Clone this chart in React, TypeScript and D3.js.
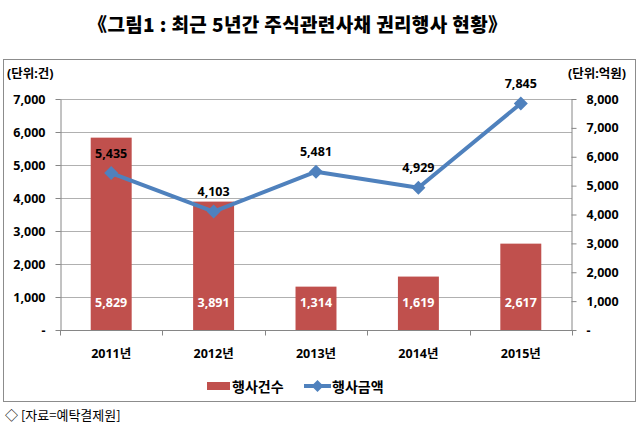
import React, { useEffect, useRef } from 'react';
import * as d3 from 'd3';

const years = ['2011년', '2012년', '2013년', '2014년', '2015년'];
const counts = [5829, 3891, 1314, 1619, 2617];
const amounts = [5435, 4103, 5481, 4929, 7845];
const leftTicks = [0, 1000, 2000, 3000, 4000, 5000, 6000, 7000];
const rightTicks = [0, 1000, 2000, 3000, 4000, 5000, 6000, 7000, 8000];

const W = 639;
const H = 430;
const FONT = '"Noto Sans", "Noto Sans CJK KR", sans-serif';
const BAR = '#C0504D';
const LINE = '#4F81BD';

const App: React.FC = () => {
  const ref = useRef<SVGSVGElement>(null);

  useEffect(() => {
    const svg = d3.select(ref.current);
    svg.selectAll('*').remove();

    const plot = { left: 60, right: 572, top: 99, bottom: 330 };

    const x = d3
      .scaleBand<string>()
      .domain(years)
      .range([plot.left, plot.right])
      .paddingInner(0.6)
      .paddingOuter(0.3);
    const step = x.step();
    const cx = (d: string) => (x(d) as number) + x.bandwidth() / 2;

    const yL = d3.scaleLinear().domain([0, 7000]).range([plot.bottom, plot.top]);
    const yR = d3.scaleLinear().domain([0, 8000]).range([plot.bottom, plot.top]);

    const fmt = (d: number) => (d === 0 ? '-' : d3.format(',')(d));

    // title
    svg
      .append('text')
      .attr('x', 88)
      .attr('y', 23)
      .attr('textLength', 419)
      .attr('lengthAdjust', 'spacing')
      .attr('dominant-baseline', 'central')
      .style('font-family', '"Noto Sans CJK KR", sans-serif')
      .style('font-weight', 900)
      .style('font-size', '19px')
      .text('《그림1 : 최근 5년간 주식관련사채 권리행사 현황》');

    // chart frame
    svg
      .append('rect')
      .attr('x', 3.5)
      .attr('y', 59.5)
      .attr('width', 632)
      .attr('height', 342)
      .attr('fill', 'white')
      .attr('stroke', '#8c8c8c');

    // gridlines
    svg
      .append('g')
      .selectAll('line')
      .data(leftTicks.filter((d) => d > 0))
      .enter()
      .append('line')
      .attr('x1', plot.left)
      .attr('x2', plot.right)
      .attr('y1', (d) => Math.round(yL(d)) + 0.5)
      .attr('y2', (d) => Math.round(yL(d)) + 0.5)
      .attr('stroke', '#b0b0b0');

    // bars
    svg
      .append('g')
      .selectAll('rect')
      .data(years)
      .enter()
      .append('rect')
      .attr('x', (d) => x(d) as number)
      .attr('y', (d, i) => yL(counts[i]))
      .attr('width', x.bandwidth())
      .attr('height', (d, i) => plot.bottom - yL(counts[i]))
      .attr('fill', BAR);

    // axes
    const styleAxis = (g: d3.Selection<SVGGElement, unknown, null, undefined>) => {
      g.select('.domain').attr('stroke', '#868686');
      g.selectAll('.tick line').attr('stroke', '#868686');
      g.selectAll('.tick text')
        .attr('fill', '#000')
        .style('font-family', FONT)
        .style('font-weight', 700)
        .style('font-size', '12.5px');
    };

    svg
      .append('g')
      .attr('transform', `translate(${plot.left + 0.5},0)`)
      .call(d3.axisLeft(yL).tickValues(leftTicks).tickFormat((d) => fmt(+d)).tickSize(5).tickSizeOuter(0).tickPadding(10))
      .call(styleAxis);

    svg
      .append('g')
      .attr('transform', `translate(${plot.right - 0.5},0)`)
      .call(d3.axisRight(yR).tickValues(rightTicks).tickFormat((d) => fmt(+d)).tickSize(5).tickSizeOuter(0).tickPadding(10))
      .call(styleAxis);

    const xAxis = svg.append('g').attr('transform', `translate(0,${plot.bottom + 0.5})`);
    xAxis
      .append('line')
      .attr('x1', plot.left)
      .attr('x2', plot.right)
      .attr('stroke', '#868686');
    xAxis
      .selectAll('line.tick')
      .data(d3.range(years.length + 1))
      .enter()
      .append('line')
      .attr('class', 'tick')
      .attr('x1', (i) => Math.round(plot.left + i * step) + 0.5)
      .attr('x2', (i) => Math.round(plot.left + i * step) + 0.5)
      .attr('y1', 0)
      .attr('y2', 5)
      .attr('stroke', '#868686');
    xAxis
      .selectAll('text')
      .data(years)
      .enter()
      .append('text')
      .attr('x', cx)
      .attr('y', 23)
      .attr('text-anchor', 'middle')
      .attr('dominant-baseline', 'central')
      .style('font-family', FONT)
      .style('font-weight', 700)
      .style('font-size', '12.5px')
      .text((d) => d);

    // bar value labels
    svg
      .append('g')
      .selectAll('text')
      .data(years)
      .enter()
      .append('text')
      .attr('x', cx)
      .attr('y', plot.bottom - 28)
      .attr('text-anchor', 'middle')
      .attr('dominant-baseline', 'central')
      .attr('fill', 'white')
      .style('font-family', FONT)
      .style('font-weight', 700)
      .style('font-size', '12.5px')
      .text((d, i) => d3.format(',')(counts[i]));

    // line
    const line = d3
      .line<number>()
      .x((d, i) => cx(years[i]))
      .y((d) => yR(d));

    svg
      .append('path')
      .datum(amounts)
      .attr('d', line)
      .attr('fill', 'none')
      .attr('stroke', LINE)
      .attr('stroke-width', 4)
      .attr('stroke-linejoin', 'round');

    const diamond = (px: number, py: number, r: number) =>
      `M${px},${py - r}L${px + r},${py}L${px},${py + r}L${px - r},${py}Z`;

    svg
      .append('g')
      .selectAll('path')
      .data(amounts)
      .enter()
      .append('path')
      .attr('d', (d, i) => diamond(cx(years[i]), yR(d), 7))
      .attr('fill', LINE);

    svg
      .append('g')
      .selectAll('text')
      .data(amounts)
      .enter()
      .append('text')
      .attr('x', (d, i) => cx(years[i]))
      .attr('y', (d) => yR(d) - 20)
      .attr('text-anchor', 'middle')
      .attr('dominant-baseline', 'central')
      .attr('fill', '#000')
      .style('font-family', FONT)
      .style('font-weight', 700)
      .style('font-size', '12.5px')
      .text((d) => d3.format(',')(d));

    // unit labels
    const unit = (tx: number, anchor: string, label: string) =>
      svg
        .append('text')
        .attr('x', tx)
        .attr('y', 73)
        .attr('text-anchor', anchor)
        .attr('dominant-baseline', 'central')
        .style('font-family', FONT)
        .style('font-weight', 700)
        .style('font-size', '12.5px')
        .text(label);
    unit(7, 'start', '(단위:건)');
    unit(626, 'end', '(단위:억원)');

    // legend
    const lg = svg.append('g').attr('transform', 'translate(0,386)');
    lg.append('rect').attr('x', 207).attr('y', -4).attr('width', 23).attr('height', 8).attr('fill', BAR);
    lg.append('text')
      .attr('x', 232)
      .attr('dominant-baseline', 'central')
      .style('font-family', FONT)
      .style('font-weight', 700)
      .style('font-size', '14px')
      .text('행사건수');
    lg.append('line').attr('x1', 304).attr('x2', 331).attr('stroke', LINE).attr('stroke-width', 4);
    lg.append('path').attr('d', diamond(317.5, 0, 6)).attr('fill', LINE);
    lg.append('text')
      .attr('x', 332)
      .attr('dominant-baseline', 'central')
      .style('font-family', FONT)
      .style('font-weight', 700)
      .style('font-size', '14px')
      .text('행사금액');

    // source
    svg
      .append('text')
      .attr('x', 5)
      .attr('y', 414)
      .attr('dominant-baseline', 'central')
      .style('font-family', '"Noto Sans CJK KR", sans-serif')
      .style('font-size', '13px')
      .text('◇ [자료=예탁결제원]');
  }, []);

  return (
    <div style={{ position: 'fixed', left: 0, top: 0, width: W, height: H, background: 'white' }}>
      <svg ref={ref} width={W} height={H}></svg>
    </div>
  );
};

export default App;
